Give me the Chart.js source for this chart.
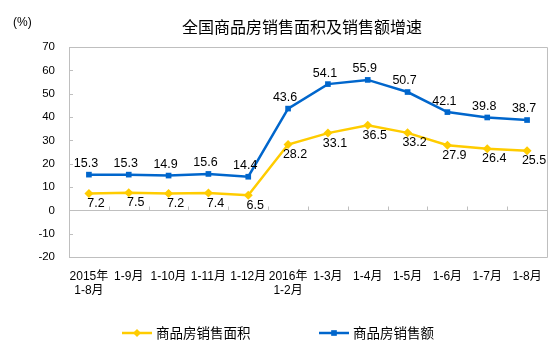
<!DOCTYPE html>
<html>
<head>
<meta charset="utf-8">
<script src="https://cdn.jsdelivr.net/npm/chart.js@4.4.1/dist/chart.umd.min.js"></script>
<style>
  html, body { margin: 0; padding: 0; background: #fff; }
  #wrap { width: 554px; height: 354px; }
</style>
</head>
<body>
<div id="wrap"><canvas id="lineChart" width="554" height="354"></canvas></div>
<script>
// 数据
var categories = [['2015年', '1-8月'], '1-9月', '1-10月', '1-11月', '1-12月', ['2016年', '1-2月'],
    '1-3月', '1-4月', '1-5月', '1-6月', '1-7月', '1-8月'];
var areaGrowth = [7.2, 7.5, 7.2, 7.4, 6.5, 28.2, 33.1, 36.5, 33.2, 27.9, 26.4, 25.5];
var salesGrowth = [15.3, 15.3, 14.9, 15.6, 14.4, 43.6, 54.1, 55.9, 50.7, 42.1, 39.8, 38.7];
var yTicks = [-20, -10, 0, 10, 20, 30, 40, 50, 60, 70];

var chartTitle = '全国商品房销售面积及销售额增速';
var unitLabel = '(%)';
var seriesNames = ['商品房销售面积', '商品房销售额'];

var YELLOW = '#FFCC00';
var BLUE = '#0066CC';
var GRAY = '#BFBFBF';
var FONT = '"Liberation Sans", Arial, "Noto Sans CJK SC", sans-serif';

// 数据标签、边框、标题、图例
var decorPlugin = {
    id: 'decor',
    afterDatasetsDraw: function (chart) {
        var ctx = chart.ctx;
        ctx.save();
        ctx.font = '12.5px ' + FONT;
        ctx.fillStyle = '#000';
        ctx.textAlign = 'center';
        ctx.textBaseline = 'middle';
        chart.data.datasets.forEach(function (ds, i) {
            var meta = chart.getDatasetMeta(i);
            meta.data.forEach(function (pt, j) {
                ctx.fillText(ds.data[j].toFixed(1), pt.x + ds.labelDx, pt.y + ds.labelDy);
            });
        });
        ctx.restore();
    },
    afterDraw: function (chart) {
        var ctx = chart.ctx;
        var a = chart.chartArea;
        var y = chart.scales.y;
        ctx.save();
        // 边框
        ctx.strokeStyle = GRAY;
        ctx.lineWidth = 1;
        ctx.beginPath();
        ctx.moveTo(a.left + 0.5, a.bottom + 0.5);
        ctx.lineTo(a.left + 0.5, a.top + 0.5);
        ctx.lineTo(a.right + 0.5, a.top + 0.5);
        ctx.lineTo(a.right + 0.5, a.bottom + 0.5);
        ctx.lineTo(a.left + 0.5, a.bottom + 0.5);
        ctx.stroke();
        // y轴刻度线（向内）
        ctx.beginPath();
        yTicks.forEach(function (v) {
            var py = Math.round(y.getPixelForValue(v)) + 0.5;
            ctx.moveTo(a.left, py);
            ctx.lineTo(a.left + 4, py);
        });
        // 零线上的分类刻度
        var zy = Math.round(y.getPixelForValue(0)) + 0.5;
        var step = (a.right - a.left) / categories.length;
        for (var k = 1; k < categories.length; k++) {
            var px = Math.round(a.left + step * k) + 0.5;
            ctx.moveTo(px, zy);
            ctx.lineTo(px, zy - 4);
        }
        ctx.stroke();

        // 标题
        ctx.fillStyle = '#000';
        ctx.textBaseline = 'middle';
        ctx.textAlign = 'center';
        ctx.font = '16px "Noto Sans CJK SC", sans-serif';
        ctx.fillText(chartTitle, 302, 27);
        ctx.textAlign = 'left';
        ctx.font = '12px ' + FONT;
        ctx.fillText(unitLabel, 13, 23);

        // 图例
        var items = [
            { x: 122, color: YELLOW, style: 'rectRot', name: seriesNames[0] },
            { x: 319, color: BLUE, style: 'rect', name: seriesNames[1] }
        ];
        ctx.font = '13.5px "Noto Sans CJK SC", sans-serif';
        items.forEach(function (it) {
            var ly = 333;
            ctx.strokeStyle = it.color;
            ctx.lineWidth = 2.5;
            ctx.beginPath();
            ctx.moveTo(it.x, ly);
            ctx.lineTo(it.x + 30, ly);
            ctx.stroke();
            ctx.fillStyle = it.color;
            Chart.helpers.drawPoint(ctx, { pointStyle: it.style, radius: 4, borderWidth: 0 }, it.x + 15, ly);
            ctx.fillStyle = '#000';
            ctx.fillText(it.name, it.x + 34, ly);
        });
        ctx.restore();
    }
};

var ctx = document.getElementById('lineChart').getContext('2d');
var currentLineChart = new Chart(ctx, {
    type: 'line',
    data: {
        labels: categories,
        datasets: [{
            label: seriesNames[0],
            data: areaGrowth,
            borderColor: YELLOW,
            backgroundColor: YELLOW,
            borderWidth: 2.5,
            pointStyle: 'rectRot',
            pointRadius: 4.5,
            pointBorderWidth: 0,
            tension: 0,
            fill: false,
            labelDx: 7,
            labelDy: 10
        },
        {
            label: seriesNames[1],
            data: salesGrowth,
            borderColor: BLUE,
            backgroundColor: BLUE,
            borderWidth: 2.5,
            pointStyle: 'rect',
            pointRadius: 4,
            pointBorderWidth: 0,
            tension: 0,
            fill: false,
            labelDx: -3,
            labelDy: -11
        }]
    },
    options: {
        responsive: false,
        animation: false,
        layout: { padding: { left: 0, right: 6, top: 47, bottom: 0 } },
        plugins: {
            legend: { display: false },
            title: { display: false },
            tooltip: { enabled: false }
        },
        scales: {
            x: {
                offset: true,
                grid: { display: false, drawTicks: false, offset: true },
                border: { display: false },
                ticks: {
                    maxRotation: 0,
                    autoSkip: false,
                    padding: 12,
                    color: '#000',
                    font: { size: 12, family: FONT }
                },
                afterFit: function (scale) { scale.height = 97; }
            },
            y: {
                min: -20,
                max: 70,
                afterBuildTicks: function (scale) {
                    scale.ticks = yTicks.map(function (v) { return { value: v }; });
                },
                grid: {
                    drawTicks: false,
                    color: function (c) { return c.tick && c.tick.value === 0 ? GRAY : 'rgba(0,0,0,0)'; }
                },
                border: { display: false },
                ticks: {
                    padding: 14,
                    color: '#000',
                    font: { size: 11.5, family: FONT }
                },
                afterFit: function (scale) { scale.width = 69; }
            }
        }
    },
    plugins: [decorPlugin]
});
</script>
</body>
</html>
